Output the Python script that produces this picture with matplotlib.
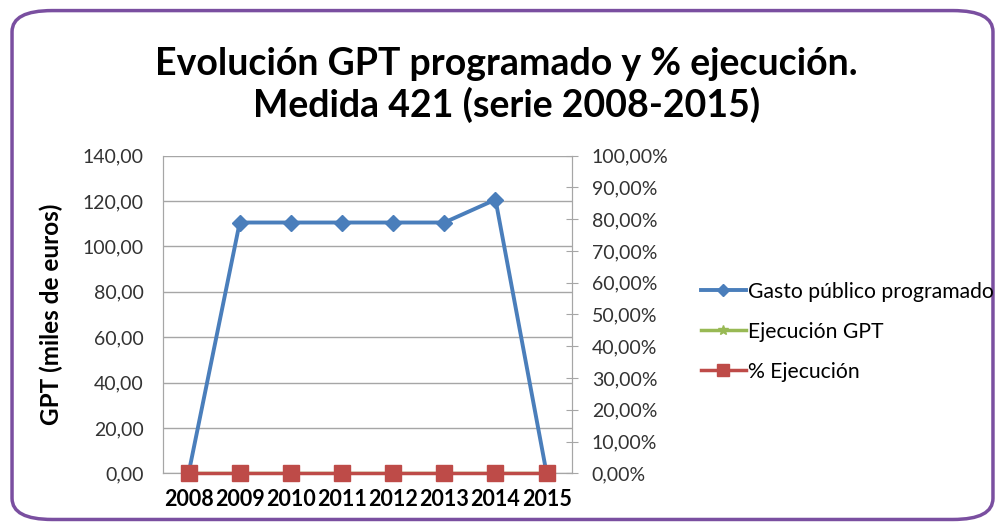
import matplotlib.pyplot as plt
from matplotlib.patches import FancyBboxPatch
from matplotlib.ticker import FuncFormatter

plt.rcParams['font.family'] = ['Lato', 'DejaVu Sans']

years = ['2008', '2009', '2010', '2011', '2012', '2013', '2014', '2015']
gasto_programado = [0.0, 110.5, 110.5, 110.5, 110.5, 110.5, 120.6, 0.0]
ejecucion_gpt = [0, 0, 0, 0, 0, 0, 0, 0]
pct_ejecucion = [0, 0, 0, 0, 0, 0, 0, 0]

fig = plt.figure(figsize=(10.03, 5.29), dpi=100)

# rounded purple frame around the whole chart
frame = FancyBboxPatch((0.012, 0.018), 0.978, 0.962,
                       boxstyle="round,pad=0,rounding_size=0.04",
                       transform=fig.transFigure, facecolor='white',
                       edgecolor='#7a4fa0', linewidth=2.5, zorder=-5)
fig.patches.append(frame)

ax = fig.add_axes([0.1625, 0.105, 0.408, 0.601])
ax2 = ax.twinx()

x = range(len(years))
ax.plot(x, gasto_programado, color='#4a7ebb', lw=2.8, marker='D', ms=8.5,
        label='Gasto público programado', zorder=3)
ax.plot(x, ejecucion_gpt, color='#98b954', lw=2.5, marker='*', ms=10,
        label='Ejecución GPT', zorder=3)
ax2.plot(x, pct_ejecucion, color='#be4b48', lw=2.5, marker='s', ms=11,
         label='% Ejecución', zorder=4, clip_on=False)

ax.set_xlim(-0.5, len(years) - 0.5)
ax.set_ylim(0, 140)
ax.set_yticks(range(0, 141, 20))
ax.yaxis.set_major_formatter(FuncFormatter(lambda v, p: f'{v:.2f}'.replace('.', ',')))
ax.grid(axis='y', color='#a6a6a6', lw=1)
ax.set_axisbelow(True)
ax.set_xticks(list(x))
ax.set_xticklabels(years, fontweight='bold', fontsize=15.5)
ax.tick_params(axis='y', length=0, labelsize=14, pad=14, colors='#333333')
ax.tick_params(axis='x', length=0, pad=11)
ax.set_ylabel('GPT (miles de euros)', fontweight='bold', fontsize=17.5, labelpad=14)

ax2.set_ylim(0, 1)
ax2.set_yticks([i / 10 for i in range(11)])
ax2.yaxis.set_major_formatter(FuncFormatter(lambda v, p: f'{v * 100:.2f}%'.replace('.', ',')))
ax2.tick_params(axis='y', direction='inout', length=8, color='#a6a6a6',
                labelsize=14, pad=10, labelcolor='#333333')

for a in (ax, ax2):
    a.patch.set_visible(False)
    for s in a.spines.values():
        s.set_color('#a6a6a6')
ax.spines['top'].set_visible(False)
ax2.spines['top'].set_visible(False)

h1, l1 = ax.get_legend_handles_labels()
h2, l2 = ax2.get_legend_handles_labels()
fig.legend(h1 + h2, l1 + l2, loc='center left', bbox_to_anchor=(0.688, 0.373),
           frameon=False, fontsize=15.2, handlelength=2.15, handletextpad=0.1,
           labelspacing=0.95, borderpad=0, markerscale=0.75)

fig.text(0.505, 0.84, 'Evolución GPT programado y % ejecución.\nMedida 421 (serie 2008-2015)',
         ha='center', va='center', fontsize=27, fontweight='bold', linespacing=1.2)

fig.savefig('out.png', dpi=100)
